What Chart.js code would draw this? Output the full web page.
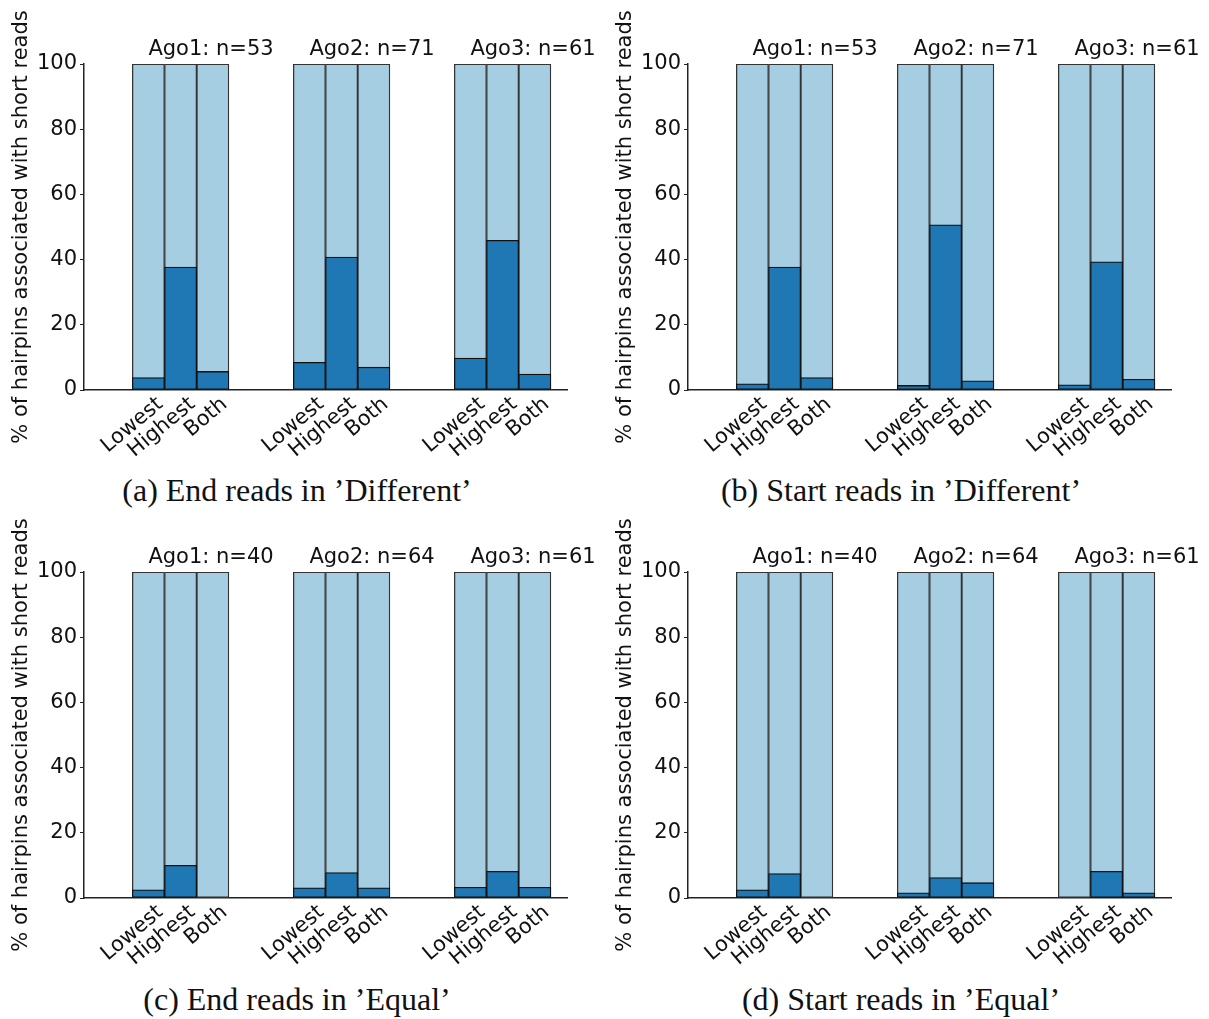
<!DOCTYPE html>
<html>
<head>
<meta charset="utf-8">
<script src="https://cdn.jsdelivr.net/npm/chart.js@4.4.1/dist/chart.umd.min.js"></script>
<style>
  html, body { margin: 0; padding: 0; background: #fff; }
  body { position: relative; width: 1209px; height: 1019px; overflow: hidden; }
  .panel { position: absolute; width: 600px; height: 470px; }
  .caption {
    position: absolute; width: 594px; text-align: center;
    font-family: "Liberation Serif", serif; font-size: 32px; line-height: 32px; color: #111;
  }
</style>
</head>
<body>
<div class="panel" style="left:0;top:0"><canvas id="pa" width="600" height="470"></canvas></div>
<div class="panel" style="left:604px;top:0"><canvas id="pb" width="600" height="470"></canvas></div>
<div class="panel" style="left:0;top:508px"><canvas id="pc" width="600" height="470"></canvas></div>
<div class="panel" style="left:604px;top:508px"><canvas id="pd" width="600" height="470"></canvas></div>
<div class="caption" id="ca" style="left:0;top:474px"></div>
<div class="caption" id="cb" style="left:604px;top:474px"></div>
<div class="caption" id="cc" style="left:0;top:983px"></div>
<div class="caption" id="cd" style="left:604px;top:983px"></div>
<script>
// Argonaute groups and the three read-position classes inside each group
const groups = ['Ago1', 'Ago2', 'Ago3'];
const categories = ['Lowest', 'Highest', 'Both'];
const yTicks = [0, 20, 40, 60, 80, 100];
const total = 100;
const yTitle = '% of hairpins associated with short reads';

// hairpin counts per group
const countsDifferent = [53, 71, 61];
const countsEqual = [40, 64, 61];

// % of hairpins with short reads, ordered Ago1(L,H,B), Ago2(L,H,B), Ago3(L,H,B)
const endDifferent   = [3.8, 37.7, 5.7,   8.5, 40.8, 7.0,   9.8, 45.9, 4.9];
const startDifferent = [1.9, 37.7, 3.8,   1.4, 50.7, 2.8,   1.6, 39.3, 3.3];
const endEqual       = [2.5, 10.0, 0.0,   3.1,  7.8, 3.1,   3.3,  8.2, 3.3];
const startEqual     = [2.5,  7.5, 0.0,   1.6,  6.3, 4.7,   0.0,  8.2, 1.6];

const captions = [
  '(a) End reads in \u2019Different\u2019',
  '(b) Start reads in \u2019Different\u2019',
  '(c) End reads in \u2019Equal\u2019',
  '(d) Start reads in \u2019Equal\u2019'
];

const SANS = 'DejaVu Sans';
const INK = '#111';

// x position of a bar: groups of three adjacent bars separated by two empty slots
function barX(i) {
  const g = Math.floor(i / categories.length);
  const c = i % categories.length;
  return 2 + g * (categories.length + 2) + c;
}

// "AgoN: n=..." text above each group, starting at the centre of its first bar
const groupLabels = {
  id: 'groupLabels',
  afterDatasetsDraw(chart, args, opts) {
    const { ctx, chartArea, scales: { x } } = chart;
    ctx.save();
    ctx.font = `21px "${SANS}"`;
    ctx.fillStyle = INK;
    ctx.textAlign = 'left';
    ctx.textBaseline = 'alphabetic';
    opts.counts.forEach((n, g) => {
      const px = x.getPixelForValue(barX(g * categories.length));
      ctx.fillText(`${groups[g]}: n=${n}`, px, chartArea.top - 9);
    });
    ctx.restore();
  }
};

function makePanel(id, values, counts) {
  const xs = values.map((_, i) => barX(i));
  const barStyle = { grouped: false, barPercentage: 1, categoryPercentage: 1, borderSkipped: false };
  return new Chart(document.getElementById(id), {
    type: 'bar',
    data: {
      datasets: [
        Object.assign({
          data: values.map((v, i) => ({ x: xs[i], y: v })),
          backgroundColor: '#1f78b4', borderColor: '#111', borderWidth: 1.3, order: 0
        }, barStyle),
        Object.assign({
          data: xs.map(x => ({ x, y: total })),
          backgroundColor: '#a6cee3', borderColor: '#333', borderWidth: 1.3, order: 1
        }, barStyle)
      ]
    },
    options: {
      responsive: false, animation: false, maintainAspectRatio: false,
      layout: { padding: { top: 64, right: 33, left: 0, bottom: 0 } },
      plugins: {
        legend: { display: false }, tooltip: { enabled: false },
        groupLabels: { counts }
      },
      scales: {
        x: {
          type: 'linear', min: 0, max: 15, offset: false,
          afterFit(s) { s.height = 80; },
          afterBuildTicks(s) { s.ticks = xs.map(v => ({ value: v })); },
          ticks: {
            autoSkip: false, minRotation: 40, maxRotation: 40, labelOffset: 12, padding: 2,
            font: { family: SANS, size: 21 }, color: INK,
            callback: (v, i) => categories[i % categories.length]
          },
          grid: { display: true, drawOnChartArea: false, drawTicks: false },
          border: { display: true, color: '#222', width: 1.5 }
        },
        y: {
          min: 0, max: total,
          afterFit(s) { s.width = 84; },
          afterBuildTicks(s) { s.ticks = yTicks.map(v => ({ value: v })); },
          ticks: { font: { family: SANS, size: 21 }, color: INK, padding: 3 },
          grid: { display: true, drawOnChartArea: false, drawTicks: true, tickLength: 4, color: '#222' },
          border: { display: true, color: '#222', width: 1.5 },
          title: {
            display: true, text: yTitle, color: INK,
            font: { family: SANS, size: 21 }, padding: { top: 9, bottom: 0 }
          }
        }
      }
    },
    plugins: [groupLabels]
  });
}

makePanel('pa', endDifferent, countsDifferent);
makePanel('pb', startDifferent, countsDifferent);
makePanel('pc', endEqual, countsEqual);
makePanel('pd', startEqual, countsEqual);

['ca', 'cb', 'cc', 'cd'].forEach((id, i) => { document.getElementById(id).textContent = captions[i]; });
</script>
</body>
</html>
